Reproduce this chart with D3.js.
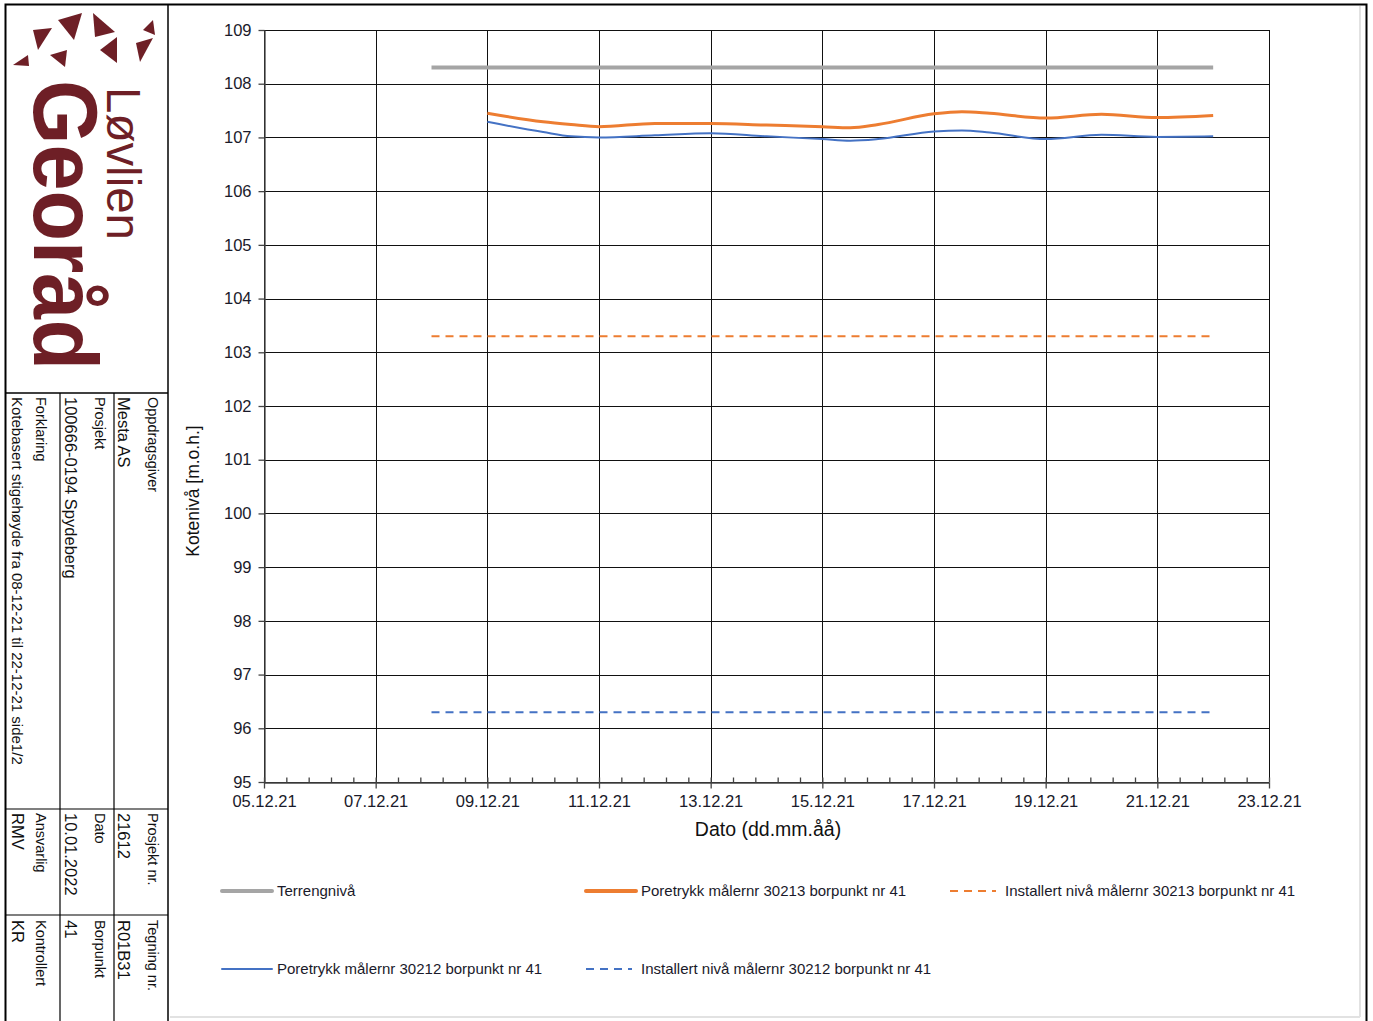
<!DOCTYPE html>
<html>
<head>
<meta charset="utf-8">
<script src="https://cdn.jsdelivr.net/npm/d3@7"></script>
<style>
  body { margin: 0; background: #fff; }
  svg text { font-family: "Liberation Sans", Arial, sans-serif; }
</style>
</head>
<body>
<div id="canvas"></div>
<script>
// measurement dates and levels (m.o.h.)
var dates = ["2021-12-09 00:00", "2021-12-10 00:00", "2021-12-10 12:00", "2021-12-11 00:00",
  "2021-12-12 00:00", "2021-12-13 00:00", "2021-12-14 00:00", "2021-12-15 00:00",
  "2021-12-15 12:00", "2021-12-16 00:00", "2021-12-17 00:00", "2021-12-17 12:00",
  "2021-12-18 00:00", "2021-12-19 00:00", "2021-12-20 00:00", "2021-12-21 00:00",
  "2021-12-22 00:00"];
var poretrykk30213 = [107.45, 107.29, 107.24, 107.20, 107.26, 107.26, 107.23, 107.20, 107.18,
  107.24, 107.44, 107.48, 107.45, 107.36, 107.43, 107.37, 107.41];
var poretrykk30212 = [107.29, 107.10, 107.02, 107.00, 107.04, 107.08, 107.02, 106.97, 106.94,
  106.97, 107.11, 107.13, 107.09, 106.97, 107.05, 107.01, 107.02];
var levelDates = ["2021-12-08 00:00", "2021-12-22 00:00"];
var terrengniva = [108.3, 108.3];
var installert30213 = [103.3, 103.3];
var installert30212 = [96.3, 96.3];

var xDomain = ["2021-12-05 00:00", "2021-12-23 00:00"];
var yDomain = [95, 109];

var legendNames = ["Terrengnivå", "Poretrykk målernr 30213 borpunkt nr 41",
  "Installert nivå målernr 30213 borpunkt nr 41",
  "Poretrykk målernr 30212 borpunkt nr 41", "Installert nivå målernr 30212 borpunkt nr 41"];

var parse = d3.timeParse("%Y-%m-%d %H:%M");

var svg = d3.select('#canvas').append('svg')
  .attr('width', 1373)
  .attr('height', 1021);

var red = "#6e1f26";

// ---- outer frame ----
svg.append('rect').attr('x', 5.5).attr('y', 4.5).attr('width', 1361).attr('height', 1030)
  .attr('fill', 'none').attr('stroke', '#000').attr('stroke-width', 2);
svg.append('line').attr('x1', 1360).attr('y1', 6).attr('x2', 1360).attr('y2', 1017)
  .attr('stroke', '#e2e2e2').attr('stroke-width', 2);
svg.append('line').attr('x1', 170).attr('y1', 1017).attr('x2', 1360).attr('y2', 1017)
  .attr('stroke', '#e2e2e2').attr('stroke-width', 2);

// ---- left title block ----
var block = svg.append('g');
block.append('line').attr('x1', 168).attr('y1', 4).attr('x2', 168).attr('y2', 1021)
  .attr('stroke', '#000').attr('stroke-width', 1.5);
block.append('line').attr('x1', 6).attr('y1', 393).attr('x2', 168).attr('y2', 393)
  .attr('stroke', '#000').attr('stroke-width', 1.5);
[60, 114].forEach(function (x) {
  block.append('line').attr('x1', x).attr('y1', 393).attr('x2', x).attr('y2', 1021)
    .attr('stroke', '#000').attr('stroke-width', 1.2);
});
[809, 915].forEach(function (y) {
  block.append('line').attr('x1', 6).attr('y1', y).attr('x2', 168).attr('y2', y)
    .attr('stroke', '#000').attr('stroke-width', 1.2);
});

// logo triangles
var tris = [
  [[13, 65], [28, 55], [29, 66]],
  [[33, 30], [52, 28], [38, 50]],
  [[50, 55], [67, 50], [65, 67]],
  [[58, 20], [82, 13], [74, 40]],
  [[93, 13], [115, 32], [95, 37]],
  [[100, 50], [117, 37], [117, 63]],
  [[136, 43], [153, 38], [140, 62]],
  [[143, 30], [153, 20], [155, 35]]
];
block.selectAll('path.tri').data(tris).enter().append('path')
  .attr('class', 'tri')
  .attr('d', function (d) { return 'M' + d.join('L') + 'Z'; })
  .attr('fill', red);

block.append('text').attr('transform', 'translate(34,80) rotate(90)')
  .attr('font-size', 90).attr('font-weight', 'bold').attr('fill', red)
  .attr('textLength', 290).attr('lengthAdjust', 'spacingAndGlyphs').text('Georåd');
block.append('text').attr('transform', 'translate(107,87) rotate(90)')
  .attr('font-size', 48).attr('fill', red)
  .attr('textLength', 153).attr('lengthAdjust', 'spacingAndGlyphs').text('Løvlien');

function vtext(x, y, size, str) {
  block.append('text').attr('transform', 'translate(' + x + ',' + y + ') rotate(90)')
    .attr('font-size', size).attr('fill', '#111').text(str);
}
vtext(148, 397, 14.5, 'Oppdragsgiver');
vtext(118, 397, 16.5, 'Mesta AS');
vtext(95, 397, 14.5, 'Prosjekt');
vtext(65, 397, 16.5, '100666-0194 Spydeberg');
vtext(36, 397, 14.5, 'Forklaring');
vtext(12, 397, 15, 'Kotebasert stigehøyde fra 08-12-21 til 22-12-21 side1/2');
vtext(148, 813, 14.5, 'Prosjekt nr.');
vtext(118, 813, 16.5, '21612');
vtext(95, 813, 14.5, 'Dato');
vtext(65, 813, 16.5, '10.01.2022');
vtext(36, 813, 14.5, 'Ansvarlig');
vtext(12, 813, 16.5, 'RMV');
vtext(148, 920, 14.5, 'Tegning nr.');
vtext(118, 920, 16.5, 'R01B31');
vtext(95, 920, 14.5, 'Borpunkt');
vtext(65, 920, 16.5, '41');
vtext(36, 920, 14.5, 'Kontrollert');
vtext(12, 920, 16.5, 'KR');

// ---- chart ----
var x = d3.scaleTime().domain(xDomain.map(parse)).range([264, 1269]);
var y = d3.scaleLinear().domain(yDomain).range([782, 30]);

var major = d3.timeDay.every(2).range(parse(xDomain[0]), d3.timeDay.offset(parse(xDomain[1]), 1));
var minor = d3.range(0, 18.01, 0.4).map(function (k) {
  return new Date(parse(xDomain[0]).getTime() + k * 864e5);
});

var chart = svg.append('g');

// grid
chart.selectAll('line.vg').data(major).enter().append('line')
  .attr('class', 'vg')
  .attr('x1', function (d) { return Math.round(x(d)) + 0.5; })
  .attr('x2', function (d) { return Math.round(x(d)) + 0.5; })
  .attr('y1', y(yDomain[1])).attr('y2', y(yDomain[0]))
  .attr('stroke', '#111').attr('stroke-width', 1);
chart.selectAll('line.hg').data(d3.range(yDomain[0], yDomain[1] + 1)).enter().append('line')
  .attr('class', 'hg')
  .attr('x1', x.range()[0]).attr('x2', x.range()[1])
  .attr('y1', function (d) { return Math.round(y(d)) + 0.5; })
  .attr('y2', function (d) { return Math.round(y(d)) + 0.5; })
  .attr('stroke', '#111').attr('stroke-width', 1);

// axes
var xAxis = chart.append('g').attr('transform', 'translate(0,782.5)')
  .call(d3.axisBottom(x).tickValues(major).tickFormat(d3.timeFormat('%d.%m.%y'))
    .tickSizeInner(6).tickSizeOuter(0).tickPadding(7));
chart.append('g').attr('transform', 'translate(0,782.5)')
  .call(d3.axisBottom(x).tickValues(minor).tickFormat('').tickSizeInner(-5).tickSizeOuter(0))
  .select('.domain').remove();
var yAxis = chart.append('g').attr('transform', 'translate(264.5,0)')
  .call(d3.axisLeft(y).ticks(14).tickSizeInner(6).tickSizeOuter(0).tickPadding(7));
chart.selectAll('.tick line, .domain').attr('stroke', '#444').attr('stroke-width', 1.3);
xAxis.selectAll('text').attr('font-size', 16.5).attr('fill', '#1a1a2a');
yAxis.selectAll('text').attr('font-size', 16.5).attr('fill', '#1a1a2a');

chart.append('text').attr('x', 768).attr('y', 836).attr('text-anchor', 'middle')
  .attr('font-size', 19.5).attr('fill', '#111').text('Dato (dd.mm.åå)');
chart.append('text').attr('transform', 'translate(199,491) rotate(-90)')
  .attr('text-anchor', 'middle').attr('font-size', 17.5).attr('fill', '#111')
  .text('Kotenivå [m.o.h.]');

// series
var levelX = levelDates.map(parse);
var mesX = dates.map(parse);
var series = [
  { vals: terrengniva, xs: levelX, c: '#a5a5a5', w: 4, dash: null },
  { vals: installert30213, xs: levelX, c: '#ed7d31', w: 2, dash: '8,6' },
  { vals: installert30212, xs: levelX, c: '#4472c4', w: 2, dash: '8,6' },
  { vals: poretrykk30213, xs: mesX, c: '#ed7d31', w: 3, dash: null },
  { vals: poretrykk30212, xs: mesX, c: '#4472c4', w: 2, dash: null }
];
var line = d3.line().curve(d3.curveMonotoneX)
  .x(function (d) { return x(d[0]); })
  .y(function (d) { return y(d[1]); });
chart.selectAll('path.series').data(series).enter().append('path')
  .attr('class', 'series')
  .attr('d', function (s) { return line(s.xs.map(function (t, i) { return [t, s.vals[i]]; })); })
  .attr('fill', 'none')
  .attr('stroke', function (s) { return s.c; })
  .attr('stroke-width', function (s) { return s.w; })
  .attr('stroke-dasharray', function (s) { return s.dash; });

// legend
var legend = [
  { name: legendNames[0], c: '#a5a5a5', w: 4, dash: null, x: 222, y: 891, len: 50 },
  { name: legendNames[1], c: '#ed7d31', w: 4, dash: null, x: 586, y: 891, len: 50 },
  { name: legendNames[2], c: '#ed7d31', w: 2, dash: '8,6', x: 950, y: 891, len: 46 },
  { name: legendNames[3], c: '#4472c4', w: 2, dash: null, x: 222, y: 969, len: 50 },
  { name: legendNames[4], c: '#4472c4', w: 2, dash: '8,6', x: 586, y: 969, len: 46 }
];
var lg = chart.selectAll('g.leg').data(legend).enter().append('g').attr('class', 'leg');
lg.append('line')
  .attr('x1', function (d) { return d.x; }).attr('x2', function (d) { return d.x + d.len; })
  .attr('y1', function (d) { return d.y; }).attr('y2', function (d) { return d.y; })
  .attr('stroke', function (d) { return d.c; })
  .attr('stroke-width', function (d) { return d.w; })
  .attr('stroke-linecap', function (d) { return d.dash ? 'butt' : 'round'; })
  .attr('stroke-dasharray', function (d) { return d.dash; });
lg.append('text')
  .attr('x', function (d) { return d.x + 55; })
  .attr('y', function (d) { return d.y + 5; })
  .attr('font-size', 15).attr('fill', '#1a1a2a')
  .text(function (d) { return d.name; });
</script>
</body>
</html>
